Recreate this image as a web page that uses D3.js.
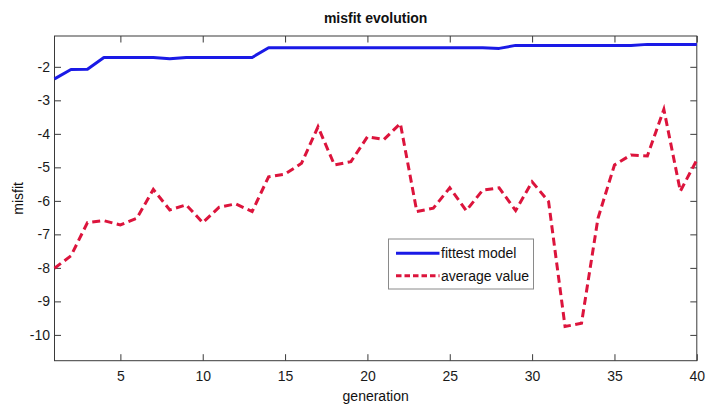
<!DOCTYPE html>
<html>
<head>
<meta charset="utf-8">
<script src="https://cdn.jsdelivr.net/npm/d3@7"></script>
<style>
  html, body { margin: 0; padding: 0; background: #ffffff; }
  svg { display: block; font-family: "Liberation Sans", Arial, sans-serif; }
</style>
</head>
<body>
<svg id="chart" width="715" height="406"></svg>
<script>
// Generation index 1..40
const generations = [1,2,3,4,5,6,7,8,9,10,11,12,13,14,15,16,17,18,19,20,
                     21,22,23,24,25,26,27,28,29,30,31,32,33,34,35,36,37,38,39,40];

// Misfit of the best individual in each generation
const fittestModel = [-2.36,-2.08,-2.07,-1.72,-1.72,-1.72,-1.72,-1.76,-1.72,-1.72,
                      -1.72,-1.72,-1.72,-1.43,-1.43,-1.43,-1.43,-1.43,-1.43,-1.43,
                      -1.43,-1.43,-1.43,-1.43,-1.43,-1.43,-1.43,-1.45,-1.36,-1.36,
                      -1.36,-1.36,-1.36,-1.36,-1.36,-1.36,-1.33,-1.33,-1.33,-1.33];

// Mean misfit of the population in each generation
const averageValue = [-8.01,-7.64,-6.65,-6.59,-6.72,-6.52,-5.66,-6.27,-6.12,-6.65,
                      -6.19,-6.09,-6.32,-5.28,-5.20,-4.88,-3.79,-4.93,-4.83,-4.09,
                      -4.17,-3.69,-6.32,-6.22,-5.61,-6.29,-5.68,-5.61,-6.29,-5.43,
                      -6.02,-9.75,-9.65,-6.52,-4.93,-4.63,-4.66,-3.27,-5.71,-4.78];

const xTicks = [5,10,15,20,25,30,35,40];
const yTicks = [-10,-9,-8,-7,-6,-5,-4,-3,-2];

const seriesNames = ["fittest model", "average value"];

const W = 715, H = 406;
const margin = {top: 36, right: 18.2, bottom: 45.3, left: 54.5};
const iw = W - margin.left - margin.right;
const ih = H - margin.top - margin.bottom;

const svg = d3.select("#chart");
const g = svg.append("g").attr("transform", `translate(${margin.left},${margin.top})`);

const x = d3.scaleLinear().domain([1, 40]).range([0, iw]);
const y = d3.scaleLinear().domain([-10.77, -1.08]).range([ih, 0]);

const axisColor = "#3a3a3a";
const fontSize = 14;

function styleAxis(sel) {
  sel.select(".domain").remove();
  sel.selectAll(".tick line").attr("stroke", axisColor).attr("stroke-width", 1);
  sel.selectAll(".tick text").attr("fill", "#1a1a1a").style("font-size", fontSize + "px");
}

// bottom axis with labels, inward ticks
g.append("g").attr("transform", `translate(0,${ih})`)
  .call(d3.axisBottom(x).tickValues(xTicks).tickSize(-6.5).tickPadding(10).tickFormat(d3.format("d")))
  .call(styleAxis);
// top axis, ticks only
g.append("g")
  .call(d3.axisTop(x).tickValues(xTicks).tickSize(-6.5).tickFormat(""))
  .call(styleAxis);
// left axis with labels
g.append("g")
  .call(d3.axisLeft(y).tickValues(yTicks).tickSize(-6.5).tickPadding(4.5).tickFormat(d => d < 0 ? "-" + Math.abs(d) : d))
  .call(styleAxis);
// right axis, ticks only
g.append("g").attr("transform", `translate(${iw},0)`)
  .call(d3.axisRight(y).tickValues(yTicks).tickSize(-6.5).tickFormat(""))
  .call(styleAxis);

// box
g.append("rect").attr("x", 0).attr("y", 0).attr("width", iw).attr("height", ih)
  .attr("fill", "none").attr("stroke", axisColor).attr("stroke-width", 1);

const blue = "#1a1ae6";
const red = "#dc143c";

const line = d3.line().x((d, i) => x(generations[i])).y(d => y(d));

g.append("path").datum(fittestModel)
  .attr("d", line).attr("fill", "none")
  .attr("stroke", blue).attr("stroke-width", 3).attr("stroke-linejoin", "round");

g.append("path").datum(averageValue)
  .attr("d", line).attr("fill", "none")
  .attr("stroke", red).attr("stroke-width", 3)
  .attr("stroke-dasharray", "8,4.5");

// title and axis labels
svg.append("text").attr("x", margin.left + iw / 2).attr("y", 23)
  .attr("text-anchor", "middle").style("font-size", "14px").style("font-weight", "bold")
  .attr("fill", "#111").text("misfit evolution");

svg.append("text").attr("x", margin.left + iw / 2).attr("y", 401)
  .attr("text-anchor", "middle").style("font-size", "14px")
  .attr("fill", "#111").text("generation");

svg.append("text").attr("transform", `translate(23,${margin.top + ih / 2}) rotate(-90)`)
  .attr("text-anchor", "middle").style("font-size", "14px")
  .attr("fill", "#111").text("misfit");

// legend
const legend = svg.append("g").attr("transform", "translate(388.5,239)");
legend.append("rect").attr("width", 145).attr("height", 50)
  .attr("fill", "#fff").attr("stroke", "#8a8a8a").attr("stroke-width", 1);
const entries = [
  {name: seriesNames[0], color: blue, dash: null, cy: 14.3},
  {name: seriesNames[1], color: red, dash: "5.5,3", cy: 36.7}
];
entries.forEach(e => {
  legend.append("line").attr("x1", 7.5).attr("x2", 51).attr("y1", e.cy).attr("y2", e.cy)
    .attr("stroke", e.color).attr("stroke-width", 3)
    .attr("stroke-dasharray", e.dash);
  legend.append("text").attr("x", 52.5).attr("y", e.cy + 5)
    .style("font-size", "14px").attr("fill", "#111").text(e.name);
});
</script>
</body>
</html>
